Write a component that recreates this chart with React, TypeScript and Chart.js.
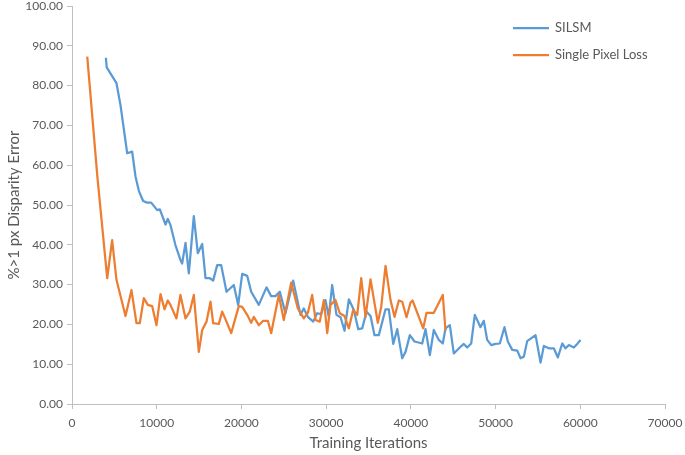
import React, { useEffect, useRef } from "react";
import { Chart, registerables } from "chart.js";

Chart.register(...registerables);

const seriesNames = ["SILSM", "Single Pixel Loss"];

const silsmIters = [
  4000, 4100, 5250, 5725, 6515, 7100, 7500, 7900, 8400, 8870, 9350, 10060, 10370, 11040, 11310, 11620,
  12200, 12800, 13000, 13400, 13790, 14380, 14850, 15370, 15760, 16270, 16660, 17140, 17610, 18240,
  19100, 19620, 20090, 20680, 21150, 22050, 22960, 23510, 24020, 24530, 25200, 26110, 26970, 27360,
  27840, 28470, 28940, 29410, 29920, 30310, 30710, 31220, 31700, 32170, 32680, 33270, 33790, 34260,
  34770, 35240, 35710, 36220, 37010, 37400, 37920, 38390, 38980, 39370, 39880, 40430, 41340, 41730,
  42240, 42710, 43300, 43770, 44090, 44600, 45070, 45780, 46250, 46650, 47120, 47550, 48220, 48610,
  49010, 49490, 49990, 50500, 51050, 51450, 51970, 52560, 52950, 53340, 53730, 54720, 55310, 55700,
  56290, 56880, 57350, 57870, 58260, 58650, 59240, 59640, 60030,
];
const silsmValues = [
  87.0, 84.6, 80.6, 75.1, 63.0, 63.4, 57.1, 53.5, 51.0, 50.6, 50.6, 48.7, 48.9, 45.1, 46.5, 45.0,
  40.0, 36.2, 35.3, 40.5, 32.8, 47.2, 37.9, 40.2, 31.6, 31.6, 31.0, 34.9, 34.9, 28.2,
  29.9, 24.9, 32.7, 32.2, 28.2, 24.9, 29.3, 27.1, 27.1, 28.2, 22.8, 31.0, 22.4, 24.0,
  21.9, 20.7, 22.8, 22.6, 26.1, 21.9, 29.9, 22.4, 21.8, 18.4, 26.3, 23.6, 18.8, 19.0,
  23.2, 22.1, 17.3, 17.3, 23.8, 23.8, 15.1, 18.8, 11.5, 13.1, 17.3, 15.7, 15.2, 18.8,
  12.3, 18.6, 16.1, 15.2, 19.0, 19.8, 12.7, 14.2, 15.1, 14.2, 15.2, 22.4, 19.3, 20.9,
  16.1, 14.8, 15.1, 15.2, 19.3, 15.7, 13.6, 13.4, 11.5, 11.9, 15.8, 17.3, 10.4, 14.6,
  14.0, 14.0, 11.7, 15.2, 14.0, 14.8, 14.2, 15.1, 16.1,
];

const splIters = [
  1800, 3000, 4155, 4740, 5250, 6315, 7020, 7610, 8000, 8480, 8950, 9460, 9975, 10450, 10920, 11310,
  11620, 12330, 12800, 13400, 13900, 14380, 14970, 15370, 15880, 16350, 16660, 17330, 17730, 18240,
  18790, 19690, 20090, 20680, 21150, 21460, 22050, 22570, 23120, 23510, 24410, 25000, 25870, 26660,
  27360, 27840, 28350, 28750, 29250, 29730, 30130, 30510, 31100, 31610, 32170, 32680, 33190, 33670,
  34140, 34650, 35240, 36100, 36500, 37010, 37600, 38070, 38580, 38980, 39490, 39960, 40200, 41460,
  41850, 42710, 43770, 44090,
];
const splValues = [
  87.3, 57.0, 31.6, 41.2, 31.2, 22.1, 28.6, 20.3, 20.3, 26.6, 24.9, 24.6, 19.8, 27.6, 23.8, 26.0,
  24.9, 21.5, 27.4, 21.5, 23.2, 27.4, 13.1, 18.6, 20.7, 25.7, 20.3, 20.1, 23.2, 20.7,
  17.8, 24.6, 24.4, 22.4, 20.4, 21.9, 19.8, 20.9, 20.9, 17.8, 27.4, 21.1, 30.5, 24.0,
  21.5, 22.9, 27.4, 21.1, 20.7, 26.1, 17.8, 24.9, 26.1, 22.8, 22.1, 19.0, 23.6, 22.4,
  31.6, 21.9, 31.3, 20.4, 24.4, 34.7, 26.1, 21.9, 26.0, 25.7, 21.8, 25.5, 26.0, 19.0,
  22.9, 22.9, 27.4, 18.4,
];

const xTickValues = [0, 10000, 20000, 30000, 40000, 50000, 60000, 70000];
const yTickValues = [0, 10, 20, 30, 40, 50, 60, 70, 80, 90, 100];

const FONT = "Lato, 'Open Sans', sans-serif";
const TEXT = "#595959";
const AXIS = "#bfbfbf";
const COLORS = ["#5B9BD5", "#ED7D31"];

const insetLegend = {
  id: "insetLegend",
  afterDraw(chart: any, _args: any, opts: any) {
    const ctx = chart.ctx;
    ctx.save();
    ctx.font = `${opts.fontSize}px ${FONT}`;
    ctx.textBaseline = "middle";
    ctx.textAlign = "left";
    chart.data.datasets.forEach((ds: any, i: number) => {
      const y = opts.y + i * opts.rowGap;
      ctx.strokeStyle = ds.borderColor;
      ctx.lineWidth = 2.25;
      ctx.lineCap = "butt";
      ctx.beginPath();
      ctx.moveTo(opts.x, y);
      ctx.lineTo(opts.x + opts.lineLen, y);
      ctx.stroke();
      ctx.fillStyle = TEXT;
      ctx.fillText(ds.label, opts.x + opts.lineLen + opts.gap, y);
    });
    ctx.restore();
  },
};

export default function App() {
  const ref = useRef<HTMLCanvasElement | null>(null);

  useEffect(() => {
    if (!ref.current) return;
    const chart = new Chart(ref.current, {
      type: "line",
      data: {
        datasets: [
          {
            label: seriesNames[0],
            data: silsmIters.map((x, i) => ({ x, y: silsmValues[i] })),
            borderColor: COLORS[0],
            backgroundColor: COLORS[0],
            borderWidth: 2.25,
            pointRadius: 0,
            tension: 0,
            borderJoinStyle: "round",
            order: 1,
          },
          {
            label: seriesNames[1],
            data: splIters.map((x, i) => ({ x, y: splValues[i] })),
            borderColor: COLORS[1],
            backgroundColor: COLORS[1],
            borderWidth: 2.25,
            pointRadius: 0,
            tension: 0,
            borderJoinStyle: "round",
            order: 0,
          },
        ],
      },
      options: {
        animation: false,
        responsive: false,
        maintainAspectRatio: false,
        layout: { padding: { top: 6, right: 20, left: 0, bottom: 0 } },
        plugins: {
          legend: { display: false },
          tooltip: { enabled: false },
          insetLegend: { x: 513, y: 28, rowGap: 27, lineLen: 36, gap: 6, fontSize: 13 },
        } as any,
        scales: {
          x: {
            type: "linear",
            min: 0,
            max: 70000,
            afterBuildTicks: (s: any) => {
              s.ticks = xTickValues.map((v) => ({ value: v }));
            },
            ticks: {
              color: TEXT,
              font: { family: FONT, size: 12 },
              padding: 7,
              maxRotation: 0,
              autoSkip: false,
              callback: (v: any) => String(v),
            },
            grid: { display: true, drawOnChartArea: false, drawTicks: true, tickLength: 5, color: AXIS },
            border: { display: true, color: AXIS, width: 1 },
            title: {
              display: true,
              text: "Training Iterations",
              color: TEXT,
              font: { family: FONT, size: 15 },
              padding: { top: 0, bottom: 3 },
            },
            afterFit: (s: any) => {
              s.height = 51;
              s.paddingLeft = 0;
              s.paddingRight = 0;
            },
          },
          y: {
            min: 0,
            max: 100,
            afterBuildTicks: (s: any) => {
              s.ticks = yTickValues.map((v) => ({ value: v }));
            },
            ticks: {
              color: TEXT,
              font: { family: FONT, size: 12 },
              padding: 4,
              autoSkip: false,
              callback: (v: any) => Number(v).toFixed(2),
            },
            grid: { display: true, drawOnChartArea: false, drawTicks: true, tickLength: 5, color: AXIS },
            border: { display: true, color: AXIS, width: 1 },
            title: {
              display: true,
              text: "%>1 px Disparity Error",
              color: TEXT,
              font: { family: FONT, size: 15 },
              padding: { top: 5, bottom: 0 },
            },
            afterFit: (s: any) => {
              s.width = 72;
              s.paddingTop = 0;
              s.paddingBottom = 0;
            },
          },
        },
      },
      plugins: [insetLegend],
    } as any);
    return () => chart.destroy();
  }, []);

  return (
    <div style={{ position: "absolute", left: 0, top: 0, width: 685, height: 455, background: "#fff" }}>
      <canvas ref={ref} width={685} height={455} />
    </div>
  );
}
